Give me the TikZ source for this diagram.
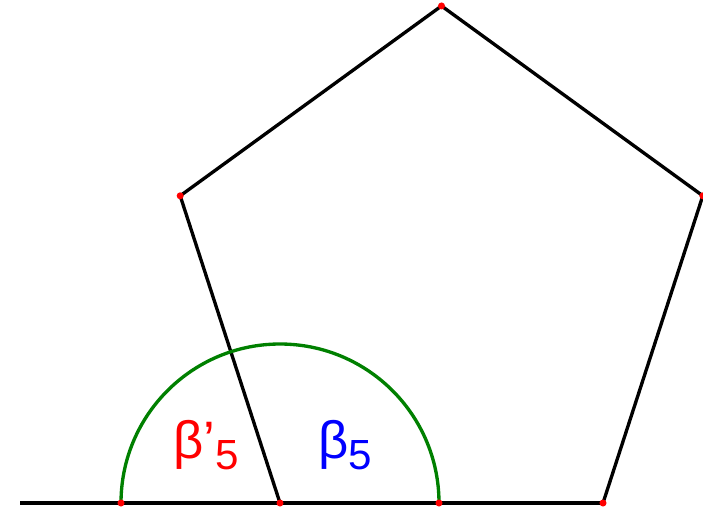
\documentclass[tikz,border=0pt]{standalone}
\usepackage{fontspec}
\setsansfont{Liberation Sans}
\usetikzlibrary{calc}
\tikzstyle{side}=[draw=black,line width=1.9pt]
\tikzstyle{angarc}=[draw=green!50!black,line width=1.9pt]
\tikzstyle{pt}=[circle,fill=red,inner sep=0pt,minimum size=4pt]
\tikzstyle{every node}=[font=\sffamily\fontsize{30}{30}\selectfont]
\newcommand{\sub}[1]{\raisebox{-0.2em}{\fontsize{24}{24}\selectfont #1}}

\begin{document}
\begin{tikzpicture}[x=0.02cm, y=0.02cm]
            \useasboundingbox (0,0) rectangle (703,512);
            \coordinate (O) at (20,9);
            \coordinate (A) at (280,9);
            \coordinate (B) at (603,9);
            \coordinate (C) at ($(B)+(72:323)$);
            \coordinate (D) at ($(C)+(144:323)$);
            \coordinate (E) at ($(D)+(216:323)$);
            \coordinate (L) at (121,9);
            \coordinate (R) at (439,9);
            \draw[side] (O) -- (B);
            \draw[side, line join=round] (A) -- (B) -- (C) -- (D) -- (E) -- cycle;
            \draw[angarc] (L) arc[start angle=180, end angle=0, radius=159];
            \node[text=red] (bp) at (206,67) {β\char"27\sub{5}};
            \node[text=blue] (b) at (345,67) {β\sub{5}};
            \foreach \p in {A,B,C,D,E,L,R}
                \node[pt] at (\p) {};
        \end{tikzpicture}
\end{document}
